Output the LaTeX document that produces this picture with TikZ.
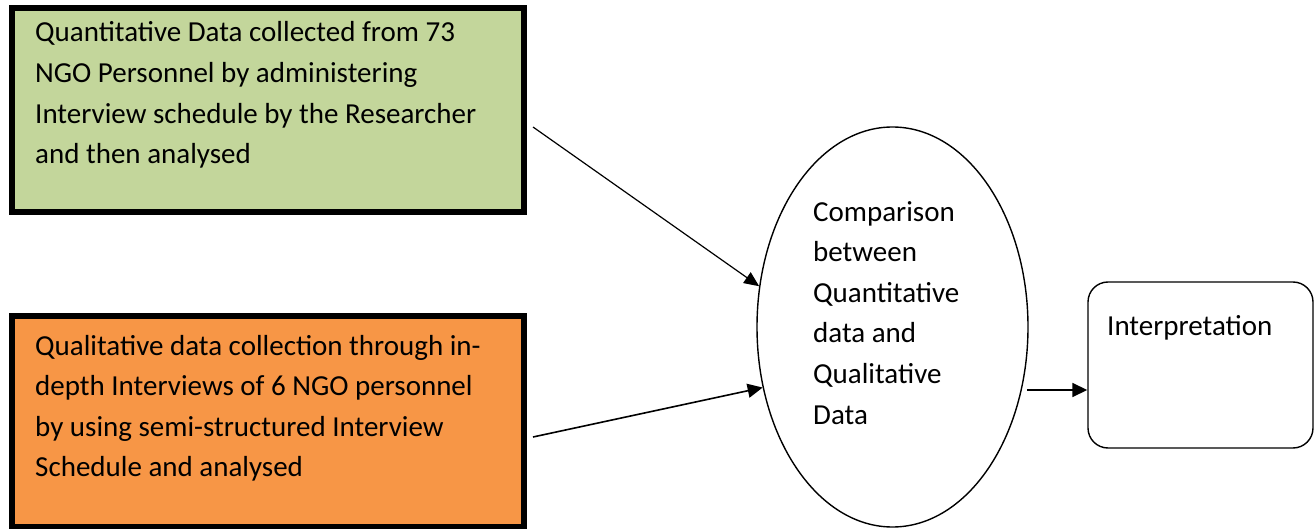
\documentclass[tikz,border=0pt]{standalone}
\usepackage{fontspec}
\setmainfont{Carlito}
\usetikzlibrary{arrows.meta,shapes.geometric}
\definecolor{boxgreen}{HTML}{C3D69B}
\definecolor{boxorange}{HTML}{F79646}
\tikzset{
  thickbox/.style={draw=black, line width=5.5pt, rectangle, inner sep=0pt},
  txt/.style={anchor=base west, align=left, inner sep=0pt, font=\fontsize{29}{40.6}\selectfont},
  conn/.style={line width=1.6pt, -{Triangle[length=15pt,width=14pt]}},
  thinconn/.style={line width=1.2pt, -{Triangle[length=15pt,width=13pt]}}
}
\begin{document}
\begin{tikzpicture}[x=1pt,y=-1pt]
\useasboundingbox (0,0) rectangle (1314,529);
% boxes
\node[thickbox, fill=boxgreen, minimum width=512pt, minimum height=204pt] (quant) at (268,110) {};
\node[thickbox, fill=boxorange, minimum width=512pt, minimum height=211pt] (qual) at (268,421.5) {};
\node[draw, ellipse, line width=1.4pt, minimum width=271pt, minimum height=400pt, inner sep=0pt] (comp) at (892.5,327) {};
\node[draw, rectangle, rounded corners=20pt, line width=1.4pt, minimum width=225pt, minimum height=166pt] (interp) at (1200.5,365) {};
% texts (anchored at the baseline of the last line)
\node[txt] (quantT) at (35,163.8) {Quantitative Data collected from 73\\NGO Personnel by administering\\Interview schedule by the Researcher\\and then analysed};
\node[txt] (qualT) at (35,476.8) {Qualitative data collection through in-\\depth Interviews of 6 NGO personnel\\by using semi-structured Interview\\Schedule and analysed};
\node[txt] (compT) at (813,424) {Comparison\\between\\Quantitative\\data and\\Qualitative\\Data};
\node[txt] (interpT) at (1107,335) {Interpretation};
% connectors
\coordinate (s1) at (533,127);
\coordinate (s2) at (533,437);
\coordinate (s3) at (1027,390);
\draw[thinconn] (s1) -- (comp.163.4);
\draw[conn] (s2) -- (comp.205.3);
\draw[conn] (s3) -- (interp.west |- s3);
\end{tikzpicture}
\end{document}
